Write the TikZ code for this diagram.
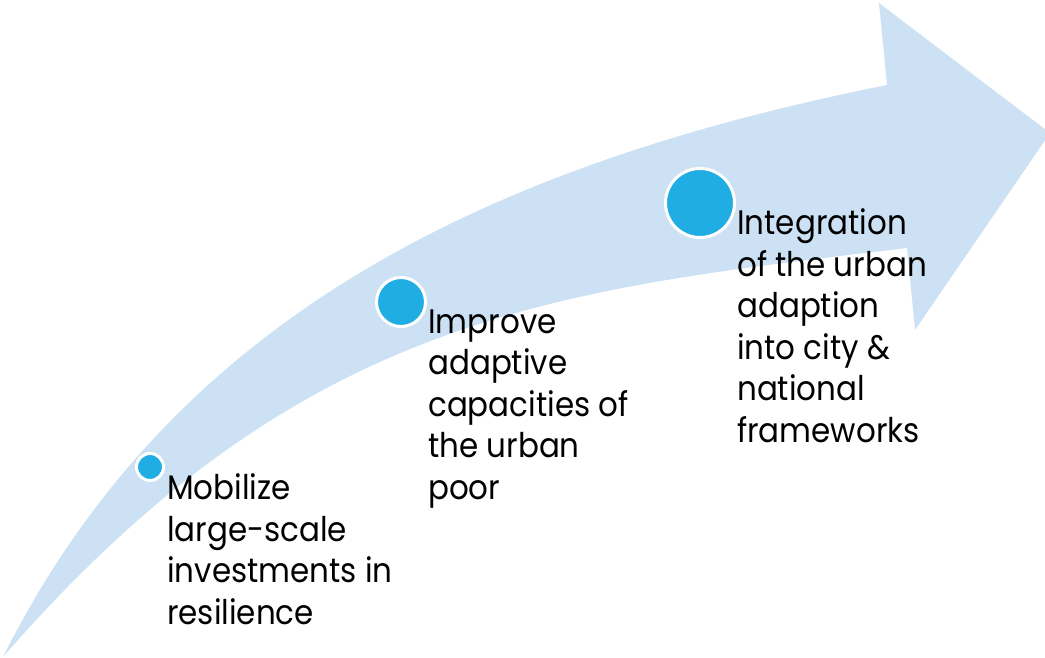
\documentclass[tikz,border=0pt]{standalone}
\usepackage{fontspec}
\setmainfont[FakeStretch=0.91]{Poppins}
\definecolor{arrowfill}{RGB}{204,226,244}
\definecolor{dotblue}{RGB}{31,173,227}
\begin{document}
\begin{tikzpicture}[x=0.75pt,y=-0.75pt,
  dot/.style={circle,fill=dotblue,draw=white,line width=2.25pt,inner sep=0pt},
  label/.style={anchor=base west,align=left,inner sep=0pt,font=\fontsize{25.5}{31.1}\selectfont}]
\useasboundingbox (0,0) rectangle (1045,657);
\clip (0,0) rectangle (1045,657);
% arrow
\fill[arrowfill] (3,657) .. controls (173,317) and (487,165) .. (887,85)
  -- (879,3) -- (1050,133) -- (915,330) -- (907,248)
  .. controls (557,290) and (303,312) .. (3,657) -- cycle;
% dots
\node[dot,minimum size=20.25pt] (d1) at (150,467) {};
\node[dot,minimum size=36.75pt] (d2) at (401,302) {};
\node[dot,minimum size=51.75pt] (d3) at (700,203) {};
% labels (anchored at the baseline of the last line)
\node[label] (t1) at (167,624) {Mobilize\\large-scale\\investments in\\resilience};
\node[label] (t2) at (428,499) {Improve\\adaptive\\capacities of\\the urban\\poor};
\node[label] (t3) at (737,442) {Integration\\of the urban\\adaption\\into city \&\\national\\frameworks};
\end{tikzpicture}
\end{document}
